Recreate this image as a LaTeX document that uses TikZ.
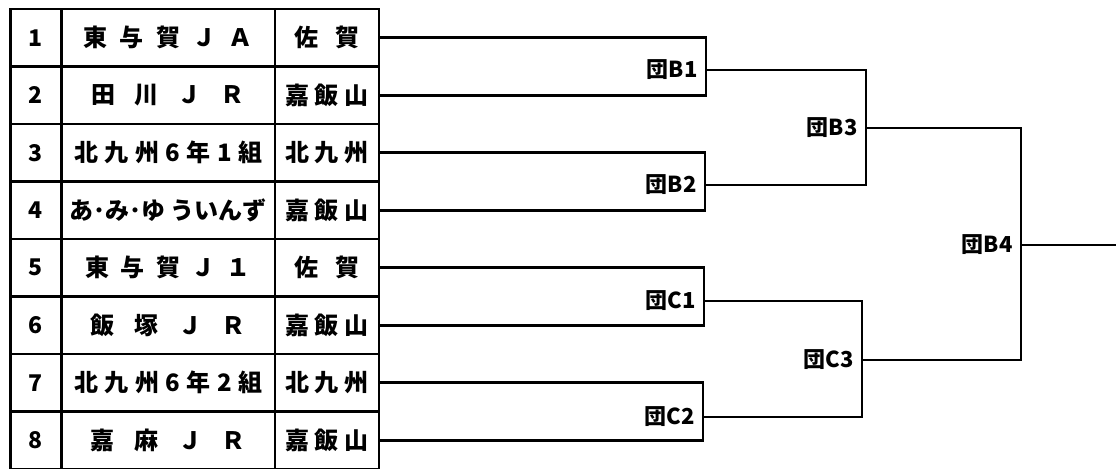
\documentclass[tikz,border=0pt]{standalone}
\usepackage{fontspec}
\setmainfont{Noto Sans CJK JP}
\usetikzlibrary{positioning}

\begin{document}
\begin{tikzpicture}[x=0.5pt, y=-0.5pt, line width=1.4pt,
    cell/.style={draw, rectangle, outer sep=0pt, inner sep=0pt, minimum height=28.75pt},
    numcell/.style={cell, minimum width=25.5pt, font=\bfseries\fontsize{11.5}{13}\selectfont},
    namecell/.style={cell, minimum width=106.75pt, font=\bfseries\fontsize{12}{14}\selectfont},
    areacell/.style={cell, minimum width=52pt, font=\bfseries\fontsize{12}{14}\selectfont},
    lab/.style={anchor=east, inner sep=3.5pt, font=\bfseries\fontsize{11}{13}\selectfont}]
    \useasboundingbox (0,0) rectangle (1116,469);
    \clip (0,0) rectangle (1116,469);

    % entry table
    \node[numcell, anchor=north west] (n1) at (10.5,9) {1};
    \node[namecell, right=0pt of n1] (t1) {\makebox[84.5pt][s]{東 与 賀 Ｊ Ａ}};
    \node[areacell, right=0pt of t1] (a1) {\makebox[32.5pt][s]{佐 賀}};
    \node[numcell, below=0pt of n1] (n2) {2};
    \node[namecell, right=0pt of n2] (t2) {\makebox[76.5pt][s]{田 川 Ｊ Ｒ}};
    \node[areacell, right=0pt of t2] (a2) {\makebox[41.5pt][s]{嘉 飯 山}};
    \node[numcell, below=0pt of n2] (n3) {3};
    \node[namecell, right=0pt of n3] (t3) {\makebox[94pt][s]{北 九 州 6 年 1 組}};
    \node[areacell, right=0pt of t3] (a3) {\makebox[41.5pt][s]{北 九 州}};
    \node[numcell, below=0pt of n3] (n4) {4};
    \node[namecell, right=0pt of n4] (t4) {あ･み･ゆ ういんず};
    \node[areacell, right=0pt of t4] (a4) {\makebox[41.5pt][s]{嘉 飯 山}};
    \node[numcell, below=0pt of n4] (n5) {5};
    \node[namecell, right=0pt of n5] (t5) {\makebox[82.5pt][s]{東 与 賀 Ｊ １}};
    \node[areacell, right=0pt of t5] (a5) {\makebox[32.5pt][s]{佐 賀}};
    \node[numcell, below=0pt of n5] (n6) {6};
    \node[namecell, right=0pt of n6] (t6) {\makebox[77.5pt][s]{飯 塚 Ｊ Ｒ}};
    \node[areacell, right=0pt of t6] (a6) {\makebox[41.5pt][s]{嘉 飯 山}};
    \node[numcell, below=0pt of n6] (n7) {7};
    \node[namecell, right=0pt of n7] (t7) {\makebox[94pt][s]{北 九 州 6 年 2 組}};
    \node[areacell, right=0pt of t7] (a7) {\makebox[41.5pt][s]{北 九 州}};
    \node[numcell, below=0pt of n7] (n8) {8};
    \node[namecell, right=0pt of n8] (t8) {\makebox[77.5pt][s]{嘉 麻 Ｊ Ｒ}};
    \node[areacell, right=0pt of t8] (a8) {\makebox[41.5pt][s]{嘉 飯 山}};

    % match labels
    \node[lab] (b1) at (706,70) {団B1};
    \node[lab] (b2) at (705,185) {団B2};
    \node[lab] (c1) at (704,301) {団C1};
    \node[lab] (c2) at (703,417) {団C2};
    \node[lab] (b3) at (866,128) {団B3};
    \node[lab] (c3) at (862,360) {団C3};
    \node[lab] (b4) at (1021,245) {団B4};
    \coordinate (fin) at (1116,245);

    % bracket
    \draw (a1.east) -| (b1.east) |- (a2.east);
    \draw (a3.east) -| (b2.east) |- (a4.east);
    \draw (a5.east) -| (c1.east) |- (a6.east);
    \draw (a7.east) -| (c2.east) |- (a8.east);
    \draw (b1.east) -| (b3.east) |- (b2.east);
    \draw (c1.east) -| (c3.east) |- (c2.east);
    \draw (b3.east) -| (b4.east) |- (c3.east);
    \draw (b4.east) -- (fin);
\end{tikzpicture}
\end{document}
